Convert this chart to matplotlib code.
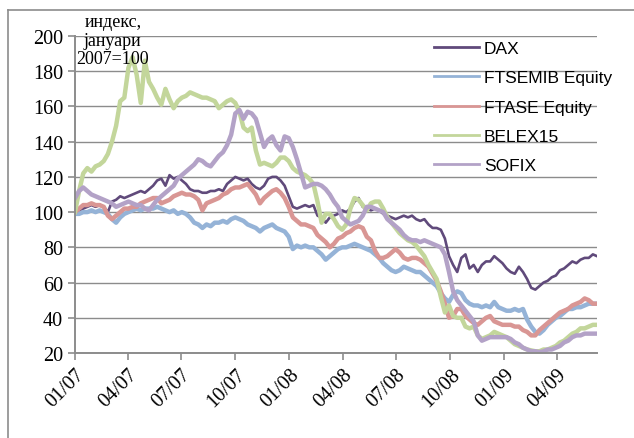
import pandas as pd
import matplotlib
matplotlib.use("Agg")
import matplotlib.pyplot as plt
import matplotlib.dates as mdates
from matplotlib.lines import Line2D

# weekly index values, January 2007 = 100
dates = pd.date_range("2007-01-01", periods=128, freq="7D")

dax = [100, 101, 102, 103, 104, 103, 104, 103, 100, 106, 107, 109, 108, 109, 110, 111,
       112, 111, 113, 115, 118, 119, 115, 121, 119, 120, 118, 116, 113, 112, 112, 111,
       111, 112, 112, 113, 112, 116, 118, 120, 119, 118, 119, 116, 114, 113, 115, 119,
       120, 120, 118, 115, 109, 103, 102, 103, 104, 103, 104, 98, 97, 94, 97, 98,
       99, 101, 100, 102, 106, 108, 103, 102, 101, 102, 101, 99, 98, 97, 96, 97,
       98, 97, 98, 96, 95, 96, 93, 91, 91, 90, 85, 75, 70, 66, 74, 76,
       68, 70, 66, 70, 72, 72, 75, 73, 71, 68, 66, 65, 69, 66, 62, 57,
       56, 58, 60, 61, 63, 64, 67, 68, 70, 72, 71, 73, 74, 74, 76, 75]

ftsemib = [99, 99, 100, 100, 101, 100, 101, 100, 99, 96, 94, 97, 99, 100, 101, 102,
           101, 102, 102, 102, 103, 102, 101, 100, 101, 99, 100, 99, 97, 94, 93, 91,
           93, 92, 94, 94, 95, 94, 96, 97, 96, 95, 93, 92, 91, 89, 91, 92,
           93, 91, 90, 89, 86, 79, 81, 80, 81, 80, 80, 78, 76, 73, 75, 77,
           79, 80, 80, 81, 82, 81, 80, 79, 78, 76, 74, 71, 69, 67, 66, 67,
           69, 68, 67, 66, 66, 64, 62, 60, 58, 54, 51, 49, 53, 55, 54, 50,
           48, 47, 47, 46, 47, 46, 49, 46, 45, 44, 44, 45, 44, 45, 39, 35,
           32, 31, 33, 36, 38, 40, 41, 43, 45, 45, 46, 46, 47, 48, 48, 48]

ftase = [100, 102, 104, 104, 105, 104, 104, 103, 98, 96, 98, 100, 102, 102, 103, 103,
         105, 106, 107, 108, 108, 105, 106, 107, 109, 110, 111, 110, 110, 109, 107, 101,
         105, 106, 107, 108, 110, 111, 113, 114, 114, 115, 116, 113, 110, 105, 108, 110,
         112, 113, 111, 108, 103, 97, 95, 93, 93, 92, 91, 87, 85, 83, 80, 82,
         85, 86, 88, 89, 91, 92, 91, 86, 84, 78, 74, 74, 75, 77, 79, 77,
         74, 73, 74, 74, 73, 71, 69, 65, 61, 55, 48, 40, 41, 45, 45, 41,
         39, 37, 36, 38, 40, 41, 38, 37, 36, 36, 36, 35, 35, 33, 32, 30,
         30, 33, 35, 37, 39, 41, 43, 44, 45, 47, 48, 49, 51, 50, 48, 48]

belex15 = [100, 112, 122, 125, 123, 126, 127, 129, 133, 140, 149, 163, 165, 182, 188, 178,
           162, 186, 174, 170, 165, 161, 170, 164, 159, 163, 165, 166, 168, 167, 166, 165,
           165, 164, 163, 159, 161, 163, 164, 162, 157, 148, 146, 148, 135, 127, 128, 127,
           126, 128, 131, 131, 129, 125, 123, 122, 121, 119, 116, 106, 94, 99, 99, 96,
           92, 90, 93, 102, 108, 107, 104, 101, 105, 106, 106, 102, 97, 94, 91, 88,
           86, 84, 83, 81, 78, 75, 70, 66, 62, 52, 43, 47, 41, 40, 40, 35,
           34, 35, 30, 28, 29, 30, 32, 31, 30, 29, 27, 25, 24, 23, 22, 21.5,
           21, 21, 22, 22, 23, 24, 26, 27, 29, 31, 32, 34, 34, 35, 36, 36]

sofix = [108, 112, 114, 112, 110, 109, 108, 107, 106, 105, 103, 104, 105, 106, 105, 104,
         104, 102, 101, 104, 107, 109, 111, 113, 115, 119, 121, 123, 125, 127, 130, 129,
         127, 126, 129, 132, 134, 138, 144, 156, 158, 153, 157, 156, 153, 145, 137, 141,
         143, 138, 135, 143, 142, 137, 130, 122, 114, 115, 116, 116, 115, 113, 110, 106,
         103, 97, 95, 93, 94, 95, 98, 103, 103, 102, 101, 100, 96, 94, 92, 90,
         87, 85, 84, 84, 83, 84, 83, 82, 81, 80, 76, 66, 55, 50, 47, 44,
         41, 38, 30, 27, 28, 29, 29, 29, 29, 29, 28, 26, 25, 23, 22, 21,
         21, 20.5, 21, 22, 22, 23, 24, 26, 27, 29, 30, 30, 31, 31, 31, 31]

series = [
    ("DAX", dax, "#604A7B", 1.9),
    ("FTSEMIB Equity", ftsemib, "#95B3D7", 3.2),
    ("FTASE Equity", ftase, "#D99694", 3.2),
    ("BELEX15", belex15, "#C3D69B", 3.2),
    ("SOFIX", sofix, "#B3A2C7", 3.2),
]

serif = "Liberation Serif"
sans = "Liberation Sans"

fig = plt.figure(figsize=(6.34, 4.39), dpi=100)
ax = fig.add_axes([0.1183, 0.1936, 0.8233, 0.7221])

for name, vals, color, lw in series:
    ax.plot(dates, vals, color=color, linewidth=lw, label=name, solid_joinstyle="round")

ax.set_ylim(20, 200)
ax.set_yticks(range(20, 201, 20))
ax.set_xlim(dates[0], dates[-1])
ax.xaxis.set_major_locator(mdates.MonthLocator(bymonth=[1, 4, 7, 10]))
ax.xaxis.set_major_formatter(mdates.DateFormatter("%m/%y"))

ax.grid(axis="y", color="#8C8C8C", linewidth=1.0)
ax.set_axisbelow(True)
for side in ["top", "right"]:
    ax.spines[side].set_visible(False)
for side in ["left", "bottom"]:
    ax.spines[side].set_color("#8C8C8C")
    ax.spines[side].set_linewidth(1.4)
ax.tick_params(axis="both", direction="out", length=5, width=1.2, color="#8C8C8C")

for lbl in ax.get_yticklabels():
    lbl.set_fontfamily(serif)
    lbl.set_fontsize(14.5)
for lbl in ax.get_xticklabels():
    lbl.set_fontfamily(serif)
    lbl.set_fontsize(14.5)
    lbl.set_rotation(45)
    lbl.set_ha("right")
    lbl.set_rotation_mode("anchor")

leg = ax.legend(loc="upper left", bbox_to_anchor=(0.684, 0.905), bbox_transform=fig.transFigure,
                frameon=False, borderpad=0, borderaxespad=0, handlelength=2.6,
                handletextpad=0.3, labelspacing=0.82, prop={"family": sans, "size": 12.5})
for h in leg.get_lines():
    h.set_linewidth(2.0)

fig.text(0.178, 0.968, "индекс,\nјануари\n2007=100", family=serif, fontsize=13,
         ha="center", va="top", linespacing=1.12)

# outer border of the chart box
fig.add_artist(Line2D([7.5 / 634, 7.5 / 634], [0, 1 - 11 / 439], transform=fig.transFigure,
                      color="#8C8C8C", linewidth=1.2))
fig.add_artist(Line2D([7.5 / 634, 1], [1 - 11 / 439, 1 - 11 / 439], transform=fig.transFigure,
                      color="#8C8C8C", linewidth=1.2))

fig.savefig("out.png", dpi=100)
